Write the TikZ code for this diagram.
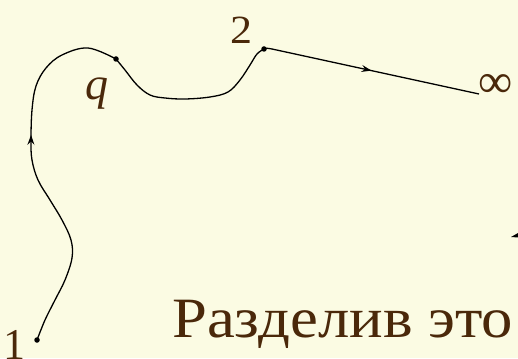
\documentclass[tikz,border=0pt]{standalone}
\usepackage{fontspec}
\setmainfont{Liberation Serif}
\newfontfamily\tnr{Liberation Serif}[FakeStretch=1.1]
\newfontfamily\tnrplain{Liberation Serif}
\usetikzlibrary{arrows.meta,decorations.markings}
\definecolor{bgcol}{HTML}{FBFBE3}
\definecolor{txtcol}{HTML}{4A280A}
\begin{document}
\begin{tikzpicture}[x=1pt,y=1pt,
  dotnode/.style={circle,fill=black,inner sep=0pt,minimum size=5.5pt},
  curveline/.style={line width=1.3pt,black},
  lbl/.style={text=txtcol,font=\tnrplain\fontsize{36}{40}\selectfont,inner sep=0pt},
  midarrow/.style={postaction={decorate},decoration={markings,mark=at position #1 with {\arrow{Stealth[length=10pt,width=7pt,inset=3.5pt]}}}}]
\fill[bgcol] (0,0) rectangle (518,358);
\useasboundingbox (0,0) rectangle (518,358);
\clip (0,0) rectangle (518,358);
% points
\node[dotnode] (p1) at (37,18) {};
\node[dotnode] (q) at (116,299) {};
\node[dotnode] (p2) at (264,309) {};
\coordinate (inf) at (479,264);
% curve 1 -> q
\draw[curveline,midarrow=0.6] plot[smooth,tension=0.6] coordinates {(p1.center) (45,38) (55,58) (65,78) (72,100) (71,118) (62,138) (50,158) (38,178) (32,198) (31,218) (32,248) (36,272) (46,290) (62,303) (88,310) (q.center)};
% curve q -> 2
\draw[curveline] plot[smooth,tension=0.6] coordinates {(q.center) (125,288) (137,273) (150,263) (165,260) (185,259) (210,261) (228,266) (240,278) (250,293) (257,304) (p2.center)};
% line 2 -> infinity
\draw[curveline,midarrow=0.5] (p2.center) .. controls (266,310) .. (272,309) -- (inf);
% labels
\node[lbl,anchor=base,font=\tnrplain\fontsize{44}{48}\selectfont] (l1) at (14,-1) {1};
\node[lbl,anchor=base,font=\tnr\fontsize{40}{44}\selectfont] (l2) at (241,314) {2};
\node[lbl,anchor=base,font=\tnrplain\itshape\fontsize{46}{50}\selectfont] (lq) at (97,258) {q};
\node[lbl,anchor=west,font=\tnrplain\fontsize{48}{52}\selectfont] (linf) at (478,272) {∞};
% text
\node[text=txtcol,font=\tnr\fontsize{57}{62}\selectfont,anchor=base west,inner sep=0pt] (txt) at (172,20) {Разделив это};
% partial arrow at right edge
\fill[black] (511,121) -- (518,125) -- (518,120.5) -- cycle;
\end{tikzpicture}
\end{document}
